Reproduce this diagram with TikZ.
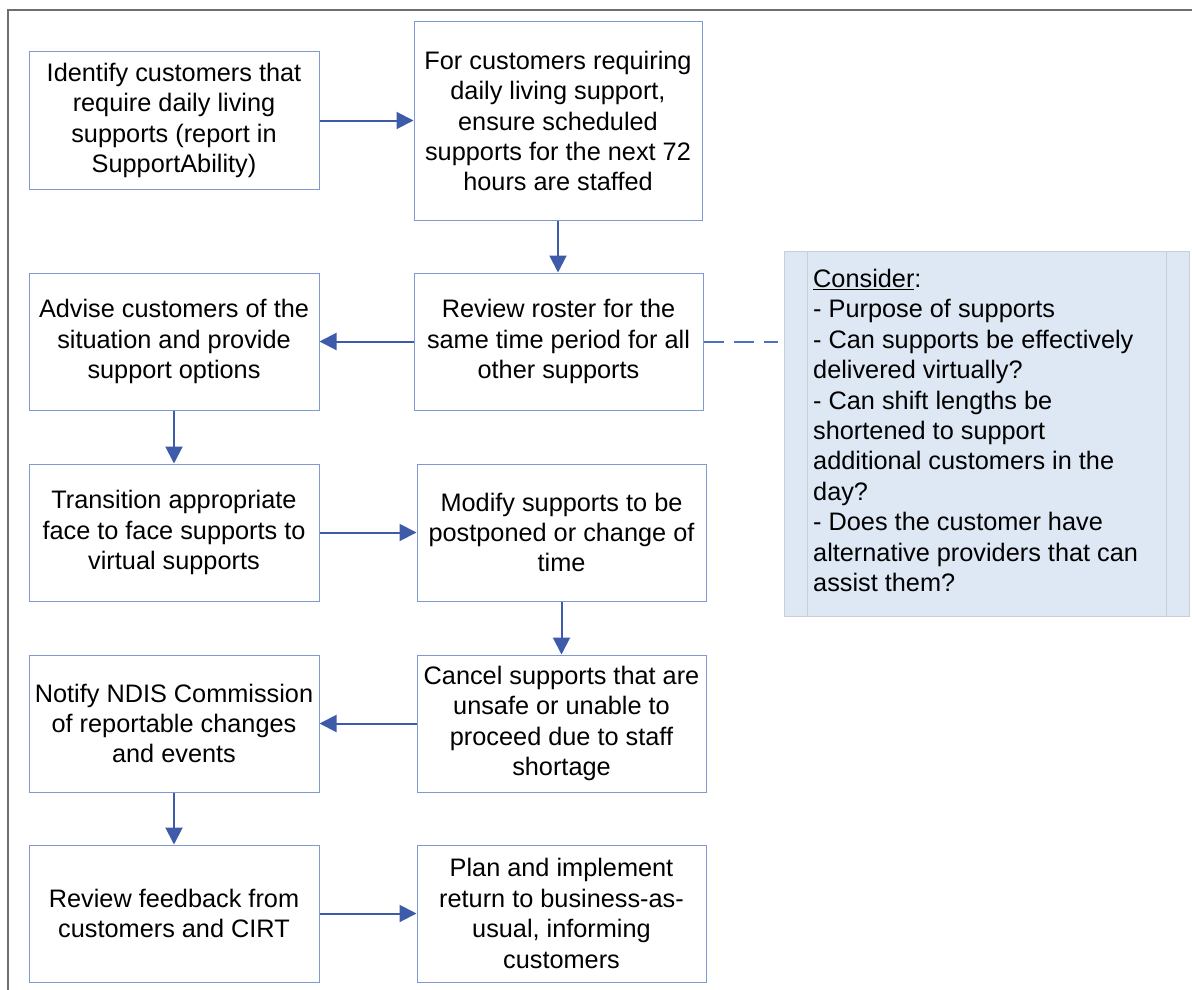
\documentclass[tikz,border=0pt]{standalone}
\usepackage{fontspec}
\setmainfont{Liberation Sans}
\usetikzlibrary{arrows.meta}
\definecolor{boxline}{HTML}{7F99D2}
\definecolor{arrowblue}{HTML}{3D5BA9}
\definecolor{dashblue}{HTML}{4A72C4}
\definecolor{notefill}{HTML}{DDE8F4}
\definecolor{noteline}{HTML}{C9CFD6}
\definecolor{framegray}{HTML}{6E6E6E}
\begin{document}
\begin{tikzpicture}[x=1pt,y=-1pt,
  stepbox/.style={draw=boxline, line width=1pt, fill=white, align=center,
    minimum width=290pt, minimum height=137pt, inner sep=0pt,
    font=\fontsize{25.3}{30.4}\selectfont},
  flow/.style={draw=arrowblue, line width=2pt,
    -{Triangle[length=17pt,width=17pt]}},
  linkdash/.style={draw=dashblue, line width=2pt, dash pattern=on 20pt off 10pt}
]
\useasboundingbox (0,0) rectangle (1192,990);
\begin{scope}
  \clip (0,0) rectangle (1192,990);
  % outer frame
  \draw[framegray, line width=2.5pt] (8,10) rectangle (1260,1060);
  % note panel
  \fill[notefill] (784,251) rectangle (1189,616);
  \draw[noteline, line width=1pt] (784,251) rectangle (1189,616);
  \draw[noteline, line width=1pt] (807,251) -- (807,616);
  \draw[noteline, line width=1pt] (1166,251) -- (1166,616);
\end{scope}
\node[anchor=north west, align=left, inner sep=0pt,
  font=\fontsize{25.3}{30.4}\selectfont] (note) at (813,269)
  {\underline{Consider}:\\
   - Purpose of supports\\
   - Can supports be effectively\\
   delivered virtually?\\
   - Can shift lengths be\\
   shortened to support\\
   additional customers in the\\
   day?\\
   - Does the customer have\\
   alternative providers that can\\
   assist them?};
\coordinate (noteleft) at (784,341.5);

% process steps
\node[stepbox] (b1) at (174,120.5) {Identify customers that\\require daily living\\supports (report in\\SupportAbility)};
\node[stepbox, minimum width=288pt, minimum height=198pt] (b2) at (558,121)
  {For customers requiring\\daily living support,\\ensure scheduled\\supports for the next 72\\hours are staffed};
\node[stepbox] (b3) at (174,341.5) {Advise customers of the\\situation and provide\\support options};
\node[stepbox, minimum width=289pt] (b4) at (558.5,341.5) {Review roster for the\\same time period for all\\other supports};
\node[stepbox] (b5) at (174,532.5) {Transition appropriate\\face to face supports to\\virtual supports};
\node[stepbox, minimum width=289pt] (b6) at (561.5,532.5) {Modify supports to be\\postponed or change of\\time};
\node[stepbox] (b7) at (174,723.5) {Notify NDIS Commission\\of reportable changes\\and events};
\node[stepbox, minimum width=289pt] (b8) at (561.5,723.5) {Cancel supports that are\\unsafe or unable to\\proceed due to staff\\shortage};
\node[stepbox] (b9) at (174,913.5) {Review feedback from\\customers and CIRT};
\node[stepbox, minimum width=289pt] (b10) at (561.5,913.5) {Plan and implement\\return to business-as-\\usual, informing\\customers};

% connectors
\draw[flow] (b1.east) -- (b1.east -| b2.west);
\draw[flow] (b2.south) -- (b2.south |- b4.north);
\draw[flow] (b4.west) -- (b4.west -| b3.east);
\draw[flow] (b3) -- (b5);
\draw[flow] (b5) -- (b6);
\draw[flow] (b6) -- (b8);
\draw[flow] (b8) -- (b7);
\draw[flow] (b7) -- (b9);
\draw[flow] (b9) -- (b10);
\draw[linkdash, shorten >=6pt] (b4.east) -- (noteleft);
\end{tikzpicture}
\end{document}
